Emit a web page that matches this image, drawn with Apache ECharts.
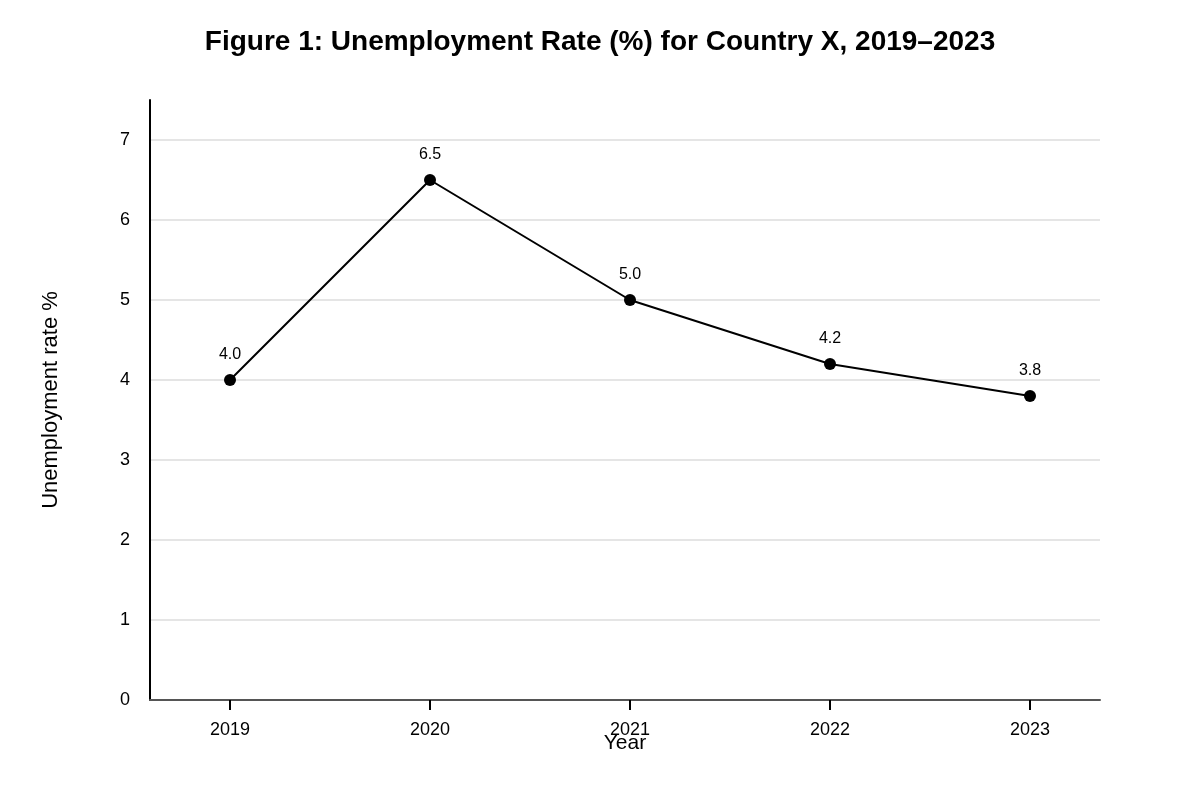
<!DOCTYPE html>
<html lang="en">
<head>
<meta charset="utf-8">
<title>Unemployment Rate</title>
<script src="https://cdn.jsdelivr.net/npm/echarts@6/dist/echarts.min.js"></script>
<style>
  html, body { margin: 0; padding: 0; background: #fff; }
  #chart { width: 1200px; height: 800px; }
</style>
</head>
<body>
<div id="chart"></div>
<script>
// data
var years = [2019, 2020, 2021, 2022, 2023];
var rates = [4.0, 6.5, 5.0, 4.2, 3.8];
var yTicks = [0, 1, 2, 3, 4, 5, 6, 7];

var points = [];
for (var i = 0; i < years.length; i++) {
  points.push([years[i], rates[i]]);
}

var font = '"Liberation Sans", Arial, sans-serif';
var chart = echarts.init(document.getElementById('chart'));
chart.setOption({
  animation: false,
  backgroundColor: '#fff',
  textStyle: { fontFamily: font },
  title: [{
    text: 'Figure 1: Unemployment Rate (%) for Country X, 2019\u20132023',
    left: 'center',
    top: 23,
    textStyle: { fontSize: 28, fontWeight: 'bold', color: '#000', fontFamily: font }
  }, {
    // x axis name sits on top of the tick labels in the original
    text: 'Year',
    left: 625,
    textAlign: 'center',
    top: 733,
    padding: 0,
    textStyle: { fontSize: 21, fontWeight: 'normal', color: '#000', fontFamily: font }
  }],
  grid: { left: 150, right: 100, top: 100, bottom: 100 },
  xAxis: {
    type: 'value',
    min: 2018.6,
    max: 2023.35,
    axisLine: { show: true, lineStyle: { color: '#555', width: 2 } },
    axisTick: { show: true, customValues: years, length: 10, lineStyle: { color: '#000', width: 2 } },
    axisLabel: {
      customValues: years,
      margin: 21,
      fontSize: 18,
      color: '#000',
      formatter: function (v) { return String(v); }
    },
    splitLine: { show: false }
  },
  yAxis: {
    type: 'value',
    min: 0,
    max: 7.5,
    name: 'Unemployment rate %',
    nameLocation: 'middle',
    nameGap: 88,
    nameTextStyle: { fontSize: 22, color: '#000', fontFamily: font },
    axisLine: { show: true, lineStyle: { color: '#000', width: 2 } },
    axisTick: { show: false },
    axisLabel: {
      customValues: yTicks,
      margin: 20,
      fontSize: 18,
      color: '#000'
    },
    splitLine: { show: true, showMaxLine: false, lineStyle: { color: '#ddd', width: 1.5 } },
    interval: 1
  },
  series: [{
    type: 'line',
    data: points,
    symbol: 'circle',
    symbolSize: 12,
    itemStyle: { color: '#000' },
    lineStyle: { color: '#000', width: 2 },
    label: {
      show: true,
      position: 'top',
      distance: 11,
      fontSize: 16,
      color: '#000',
      formatter: function (p) { return p.value[1].toFixed(1); }
    }
  }]
});
</script>
</body>
</html>
